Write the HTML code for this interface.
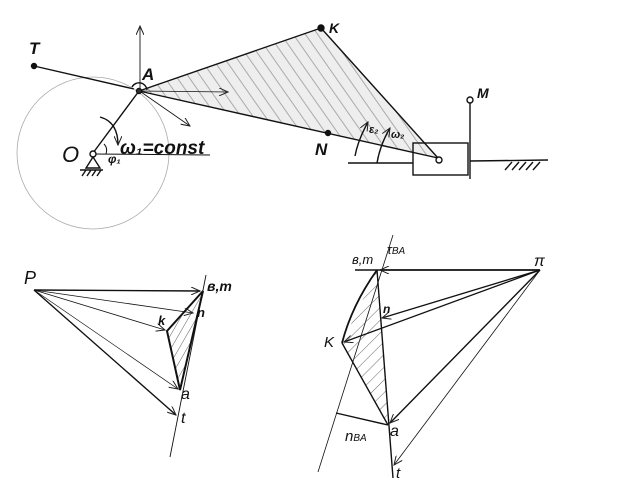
<!DOCTYPE html>
<html><head><meta charset="utf-8"><style>
html,body{margin:0;padding:0;background:#fff;}
svg{display:block;}
text{font-family:"Liberation Sans",sans-serif;fill:#111;font-style:italic;}
</style></head><body>
<svg width="621" height="484" viewBox="0 0 621 484" xmlns="http://www.w3.org/2000/svg">
<defs>
<marker id="ar" markerWidth="10" markerHeight="8" refX="9" refY="4" orient="auto" markerUnits="userSpaceOnUse"><path d="M0,0 L9,4 L0,8" fill="none" stroke="#222" stroke-width="1"/></marker>
<pattern id="h1" width="10" height="10" patternUnits="userSpaceOnUse" patternTransform="rotate(-35)"><rect width="10" height="10" fill="#eee"/><line x1="0" y1="0" x2="0" y2="10" stroke="#aaa" stroke-width="2"/></pattern>
<pattern id="h2" width="7" height="7" patternUnits="userSpaceOnUse" patternTransform="rotate(30)"><line x1="0" y1="0" x2="0" y2="7" stroke="#333" stroke-width="0.8"/></pattern>
<pattern id="h3" width="9" height="9" patternUnits="userSpaceOnUse" patternTransform="rotate(45)"><line x1="0" y1="0" x2="0" y2="9" stroke="#444" stroke-width="0.8"/></pattern>
</defs>
<g stroke="#111" fill="none" stroke-width="1.4">
<circle cx="93" cy="153" r="76" stroke="#aaa" stroke-width="0.8"/>
<polygon points="139,91 321,28 438,158" fill="url(#h1)" stroke="none"/>
<line x1="34" y1="66" x2="134" y2="89"/>
<line x1="139" y1="91" x2="438" y2="158"/>
<line x1="139" y1="91" x2="321" y2="28"/>
<line x1="321" y1="28" x2="438" y2="158"/>
<line x1="93" y1="153" x2="139" y2="91"/>
<line x1="93" y1="154" x2="210" y2="155" stroke-width="1"/>
<line x1="140" y1="90" x2="140" y2="26" stroke-width="0.9" marker-end="url(#ar)"/>
<line x1="141" y1="91" x2="228" y2="92" stroke-width="0.8" marker-end="url(#ar)"/>
<line x1="141" y1="92" x2="190" y2="126" stroke-width="0.8" marker-end="url(#ar)"/>
<path d="M132,87 A8,8 0 0 1 147,90"/>
<circle cx="139" cy="91" r="2.5" fill="#333"/>
<circle cx="34" cy="66" r="2.5" fill="#111"/>
<circle cx="321" cy="28" r="3" fill="#111"/>
<circle cx="328" cy="133" r="2.5" fill="#111"/>
<circle cx="93" cy="154" r="3" fill="#fff"/>
<path d="M93,157 L86,168 L100,168 Z"/>
<path d="M80,170 H103 M82,176 L86,170 M87,176 L91,170 M92,176 L96,170 M97,176 L101,170"/>
<path d="M100,117 Q118,122 118,145" marker-end="url(#ar)"/>
<path d="M104,144 Q108,148 106,154" stroke-width="1"/>
<rect x="413" y="143" width="55" height="32"/>
<line x1="470" y1="103" x2="470" y2="179"/>
<circle cx="470" cy="100" r="3" fill="#fff"/>
<line x1="348" y1="163" x2="413" y2="163"/>
<line x1="470" y1="161" x2="548" y2="160"/>
<path d="M505,170 L512,162 M512,170 L519,162 M519,170 L526,162 M526,170 L533,162 M533,170 L540,162"/>
<circle cx="439" cy="160" r="3" fill="#fff"/>
<path d="M355,156 Q358,140 368,122" marker-end="url(#ar)"/>
<path d="M377,163 Q380,145 390,128" marker-end="url(#ar)"/>
<line x1="206" y1="275" x2="170" y2="457" stroke-width="0.9"/>
<polygon points="203,291 167,331 180,390" fill="url(#h2)" stroke="#111" stroke-width="2"/>
<line x1="34" y1="290" x2="200" y2="291" marker-end="url(#ar)"/>
<line x1="34" y1="290" x2="193" y2="313" stroke-width="0.8" marker-end="url(#ar)"/>
<line x1="34" y1="290" x2="165" y2="330" stroke-width="0.8" marker-end="url(#ar)"/>
<line x1="34" y1="290" x2="178" y2="389" stroke-width="0.7" marker-end="url(#ar)"/>
<line x1="34" y1="290" x2="176" y2="415" stroke-width="1.4" marker-end="url(#ar)"/>
<line x1="393" y1="235" x2="318" y2="472" stroke-width="0.8"/>
<line x1="355" y1="270" x2="540" y2="270"/>
<line x1="540" y1="270" x2="380" y2="270" marker-end="url(#ar)"/>
<polygon points="377,270 342,343 388,425" fill="url(#h3)" stroke="none"/>
<line x1="377" y1="270" x2="393" y2="478"/>
<path d="M377,270 Q352,305 342,343" stroke-width="1.8"/>
<line x1="342" y1="343" x2="388" y2="425"/>
<line x1="336" y1="413" x2="388" y2="425"/>
<line x1="540" y1="270" x2="382" y2="318" stroke-width="1.3" marker-end="url(#ar)"/>
<line x1="540" y1="270" x2="344" y2="342" stroke-width="1.3" marker-end="url(#ar)"/>
<line x1="540" y1="270" x2="390" y2="423" marker-end="url(#ar)"/>
<line x1="540" y1="270" x2="394" y2="465" stroke-width="0.8" marker-end="url(#ar)"/>
</g>
<g font-size="17" font-weight="bold">
<text x="29" y="54">T</text>
<text x="142" y="80">A</text>
<text x="62" y="162" font-size="22" font-weight="normal">O</text>
<text x="120" y="154" font-size="19">ω₁=const</text>
<text x="108" y="163" font-size="12">φ₁</text>
<text x="329" y="33" font-size="14">K</text>
<text x="315" y="155">N</text>
<text x="477" y="98" font-size="14">M</text>
<text x="369" y="133" font-size="11">ε₂</text>
<text x="391" y="138" font-size="11">ω₂</text>
<text x="24" y="284" font-size="18" font-weight="normal">P</text>
<text x="207" y="291" font-size="14">в,m</text>
<text x="197" y="317" font-size="13">n</text>
<text x="158" y="325" font-size="13">k</text>
<text x="181" y="399" font-size="16" font-weight="normal">a</text>
<text x="181" y="423" font-size="16" font-weight="normal">t</text>
<text x="352" y="264" font-size="13" font-weight="normal">в,m</text>
<text x="387" y="254" font-size="13" font-weight="normal">τ<tspan font-size="10">BA</tspan></text>
<text x="534" y="266" font-size="16" font-weight="normal">π</text>
<text x="383" y="313" font-size="12">n</text>
<text x="324" y="347" font-size="15" font-weight="normal">K</text>
<text x="390" y="436" font-size="16" font-weight="normal">a</text>
<text x="345" y="441" font-size="15" font-weight="normal">n<tspan font-size="10">BA</tspan></text>
<text x="396" y="478" font-size="15" font-weight="normal">t</text>
</g>
</svg>
</body></html>
